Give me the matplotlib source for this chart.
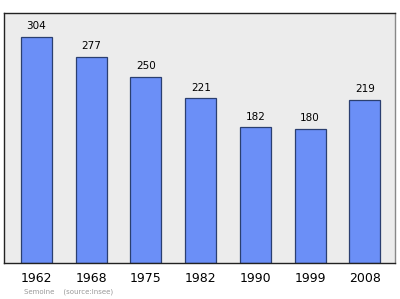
import matplotlib
matplotlib.use("Agg")
import matplotlib.pyplot as plt

years = ["1962", "1968", "1975", "1982", "1990", "1999", "2008"]
population = [304, 277, 250, 221, 182, 180, 219]

W, H = 400, 299
fig = plt.figure(figsize=(W / 100, H / 100), dpi=100)
fig.patch.set_facecolor("white")
ax = fig.add_axes([4 / W, 1 - 263 / H, 391 / W, 250 / H])
ax.set_facecolor("#ececec")

x = list(range(len(years)))
bars = ax.bar(x, population, width=0.567, color="#6b8ff7", edgecolor="#2b3f70", linewidth=0.9)
ax.set_xlim(-0.594, 6.55)
ax.set_ylim(0, 335.6)

for xi, v in zip(x, population):
    ax.annotate(str(v), (xi, v), xytext=(0, 4.2), textcoords="offset points",
                ha="center", va="bottom", fontsize=7.5, color="black")

ax.set_xticks(x)
ax.set_xticklabels(years, fontsize=9)
ax.tick_params(axis="x", length=0, pad=6.5)
ax.set_yticks([])
for s in ax.spines.values():
    s.set_color("#222222")
    s.set_linewidth(1.0)
ax.spines["right"].set_color("#888888")

fig.text(24 / W, 1 - 292 / H, "Semoine    (source:Insee)", fontsize=5, color="#999999",
         ha="left", va="center")

fig.savefig("out.png", dpi=100)
